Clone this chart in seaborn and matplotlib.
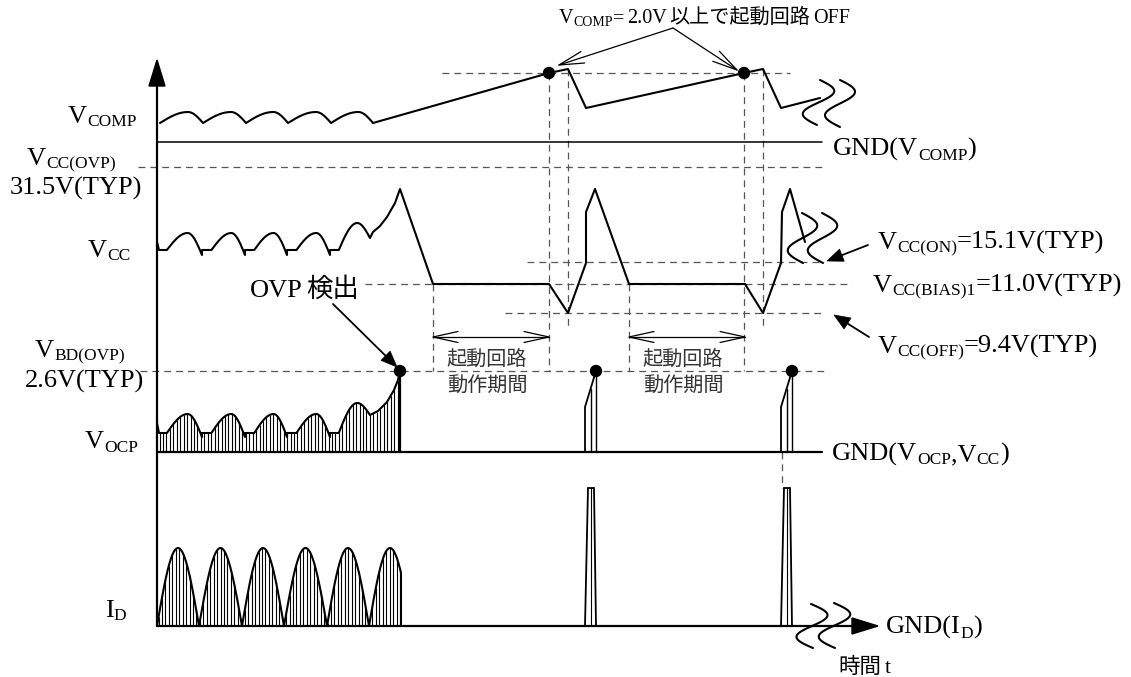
import numpy as np
import matplotlib
matplotlib.use("Agg")
import matplotlib.pyplot as plt
from matplotlib.patches import Polygon, Circle
import seaborn as sns

# ---------------- diagram data (drawing units, y grows downward) ----------------
W, H = 1131, 677

gnd_vcomp, gnd_vocp, gnd_id = 142, 452, 626
lvl_comp_off = 73      # V_COMP = 2.0V
lvl_vcc_ovp = 167      # V_CC(OVP) 31.5V
lvl_vcc_on = 262       # V_CC(ON) 15.1V
lvl_vcc_bias = 284     # V_CC(BIAS)1 11.0V
lvl_vcc_off = 313      # V_CC(OFF) 9.4V
lvl_vbd_ovp = 371      # V_BD(OVP) 2.6V

# normal switching: cycle boundaries and ripple extremes
vcomp_cycle_t = [160, 203, 246, 288, 331, 373]
vcomp_trough, vcomp_crest = 123, 112
vcc_cycle_t = [157, 202, 245, 287, 330, 370]
vcc_flat, vcc_crest, vcc_dip = 250, 233, 255
vcc_last_crest, vcc_last_dip = 223, 238
ocp_flat, ocp_crest, ocp_dip = 433, 414, 437
ocp_last_crest, ocp_last_dip = 403, 415
id_cycle_t = [157, 199, 242, 284, 327, 369, 411]
id_crest = 548
ovp_t = 400

# after OVP detection: start-up circuit cycling
vcomp_t = [373, 549, 568, 586, 744, 763, 781, 820]
vcomp_v = [123, 73, 69, 108, 73, 69, 108, 98]
vcc_rise_t = [370, 373, 380, 387, 395, 400]
vcc_rise_v = [238, 232, 226, 217, 203, 189]
vcc_t = [400, 433, 549, 568, 586, 586, 595, 629, 745, 763, 781, 782, 790, 805]
vcc_v = [189, 284, 284, 313, 263, 212, 189, 284, 284, 313, 263, 212, 189, 242]
ocp_rise_t = [370, 378, 387, 394, 398, 400]
ocp_rise_v = [415, 411, 402, 390, 380, 371]
restart_t = [585, 781]
restart_w = 11
ocp_knee = 407
id_pulse_top = 488
startup_windows = [(433, 549), (629, 745)]

# ---------------- figure ----------------
sns.set_theme(style="white")
plt.rcParams["font.family"] = ["Liberation Serif", "Noto Sans CJK JP"]

fig = plt.figure(figsize=(W / 100, H / 100), dpi=100)
ax = fig.add_axes([0, 0, 1, 1])
ax.set_axis_off()
renderer = fig.canvas.get_renderer()

K = "black"
DASH = dict(color="#555555", lw=0.9, linestyle=(0, (5.5, 4)))


def trace(xs, ys, lw=1.5, color=K):
    sns.lineplot(x=np.asarray(xs, float), y=np.asarray(ys, float), sort=False,
                 estimator=None, color=color, linewidth=lw, ax=ax)


def ripple(cycle_t, flat, crest, dip, flat_frac, crest_frac, last=None):
    xs, ys = [], []
    n = len(cycle_t) - 1
    for i, (a, b) in enumerate(zip(cycle_t[:-1], cycle_t[1:])):
        c, d = (crest, dip) if (last is None or i < n - 1) else last
        xa = a + flat_frac * (b - a)
        xp = a + crest_frac * (b - a)
        u = np.linspace(0, 1, 24)
        sx = np.concatenate([[a], xa + (xp - xa) * u, xp + (b - xp) * u[1:]])
        sy = np.concatenate([[flat], flat + (c - flat) * np.sin(u * np.pi / 2),
                             c + (d - c) * (1 - np.cos(u[1:] * np.pi / 2))])
        xs += list(sx)
        ys += list(sy)
    return xs, ys


def open_head(tip, frm, length=25, half=5.5, lw=0.9):
    tip = np.array(tip, float)
    frm = np.array(frm, float)
    d = (frm - tip) / np.linalg.norm(frm - tip)
    nrm = np.array([-d[1], d[0]])
    p1 = tip + d * length + nrm * half
    p2 = tip + d * length - nrm * half
    ax.plot([p1[0], tip[0], p2[0]], [p1[1], tip[1], p2[1]], color=K, lw=lw)


def filled_arrow(frm, tip, length=16, half=6.5, lw=1.3):
    tip = np.array(tip, float)
    frm = np.array(frm, float)
    d = (frm - tip) / np.linalg.norm(frm - tip)
    nrm = np.array([-d[1], d[0]])
    base = tip + d * length
    ax.plot([frm[0], base[0]], [frm[1], base[1]], color=K, lw=lw)
    ax.add_patch(Polygon([tip, base + nrm * half, base - nrm * half],
                         closed=True, facecolor=K, edgecolor=K, lw=0.5))


def squiggle(top, bottom, amp, lw=1.5):
    u = np.linspace(0, 1, 60)
    x = top[0] + (bottom[0] - top[0]) * u + amp * np.sin(2 * np.pi * u)
    y = top[1] + (bottom[1] - top[1]) * u
    ax.plot(x, y, color=K, lw=lw)


def rich(x, y, parts, size=19, sub_size=12.5, drop=3.5, color=K):
    cx = x
    for part in parts:
        if isinstance(part, (int, float)):
            cx += part
            continue
        s, is_sub = part if isinstance(part, tuple) else (part, False)
        t = ax.text(cx, y + (drop if is_sub else 0), s,
                    fontsize=sub_size if is_sub else size, color=color,
                    ha="left", va="baseline")
        cx += t.get_window_extent(renderer).width


# ---------------- reference / dashed lines ----------------
for y, x0, x1 in [(lvl_comp_off, 442, 790), (lvl_vcc_ovp, 138, 822),
                  (lvl_vcc_on, 527, 824), (lvl_vcc_bias, 365, 852),
                  (lvl_vcc_off, 505, 824), (lvl_vbd_ovp, 140, 825)]:
    ax.plot([x0, x1], [y, y], **DASH)

for x, y0, y1 in [(433, lvl_vcc_bias, lvl_vbd_ovp), (549, lvl_comp_off, lvl_vbd_ovp),
                  (568, 69, 330), (629, lvl_vcc_bias, lvl_vbd_ovp),
                  (744, lvl_comp_off, lvl_vbd_ovp), (763, 69, 330),
                  (782, gnd_vocp, id_pulse_top)]:
    ax.plot([x, x], [y0, y1], **DASH)

# ---------------- axes and ground lines ----------------
ax.plot([157, 157], [gnd_id, 84], color=K, lw=1.6)
ax.add_patch(Polygon([(157, 60), (149, 86), (165, 86)], closed=True, color=K))
ax.plot([157, 853], [gnd_id, gnd_id], color=K, lw=1.6)
ax.add_patch(Polygon([(878, gnd_id), (852, gnd_id - 8), (852, gnd_id + 8)], closed=True, color=K))
ax.plot([157, 822], [gnd_vcomp, gnd_vcomp], color=K, lw=1.1)
ax.plot([157, 822], [gnd_vocp, gnd_vocp], color=K, lw=1.6)

# ---------------- V_COMP ----------------
cx_, cy_ = ripple(vcomp_cycle_t, vcomp_trough, vcomp_crest, vcomp_trough, 0.0, 0.65)
trace(cx_ + vcomp_t[1:], cy_ + vcomp_v[1:])

# ---------------- V_CC ----------------
vx, vy = ripple(vcc_cycle_t, vcc_flat, vcc_crest, vcc_dip, 0.22, 0.68,
                last=(vcc_last_crest, vcc_last_dip))
trace([157, 159] + vx[1:] + vcc_rise_t + vcc_t[1:],
      [242, vcc_flat] + vy[1:] + vcc_rise_v + vcc_v[1:])

# ---------------- V_OCP ----------------
ox, oy = ripple(vcc_cycle_t, ocp_flat, ocp_crest, ocp_dip, 0.22, 0.68,
                last=(ocp_last_crest, ocp_last_dip))
ocp_x = [157, 159] + ox[1:] + ocp_rise_t
ocp_y = [423, ocp_flat] + oy[1:] + ocp_rise_v
hatch_x = np.arange(159.5, ovp_t, 3.45)
ax.vlines(hatch_x, np.interp(hatch_x, ocp_x, ocp_y), gnd_vocp, color=K, lw=0.8)
trace(ocp_x, ocp_y)
ax.plot([ovp_t, ovp_t], [lvl_vbd_ovp, gnd_vocp], color=K, lw=1.6)

for r in restart_t:
    top = r + restart_w
    ax.plot([r, r, top], [gnd_vocp, ocp_knee, lvl_vbd_ovp], color=K, lw=1.3)
    for xh in (r + 5.5, top):
        yh = ocp_knee + (lvl_vbd_ovp - ocp_knee) * (xh - r) / restart_w
        ax.plot([xh, xh], [gnd_vocp, yh], color=K, lw=1.0)

# ---------------- I_D ----------------
ix, iy = ripple(id_cycle_t, gnd_id, id_crest, gnd_id, 0.0, 0.5)
ix, iy = np.array(ix), np.array(iy)
keep = ix <= ovp_t + 1
cut_y = np.interp(ovp_t + 1, ix, iy)
id_x = list(ix[keep]) + [ovp_t + 1, ovp_t + 1]
id_y = list(iy[keep]) + [cut_y, gnd_id]
hx = np.arange(158.5, ovp_t + 1, 3.45)
ax.vlines(hx, np.interp(hx, ix, iy), gnd_id, color=K, lw=0.8)
trace(id_x, id_y)

for r in restart_t:
    ax.add_patch(Polygon([(r, gnd_id), (r + 3, id_pulse_top), (r + 9, id_pulse_top),
                          (r + restart_w, gnd_id)], closed=False,
                         facecolor="white", edgecolor=K, lw=1.3))
    ax.plot([r + 6, r + 6], [id_pulse_top, gnd_id], color=K, lw=0.8)

# ---------------- dots ----------------
for (x, y) in [(vcomp_t[1], lvl_comp_off), (vcomp_t[4], lvl_comp_off),
               (ovp_t, lvl_vbd_ovp)] + [(r + restart_w, lvl_vbd_ovp) for r in restart_t]:
    ax.add_patch(Circle((x, y), 5.5, color=K, zorder=5))

# ---------------- break marks ----------------
squiggle((820, 80), (817, 125), 15)
squiggle((840, 80), (840, 127), 15)
squiggle((802, 213), (803, 263), 15)
squiggle((822, 213), (823, 263), 15)
squiggle((811, 604), (813, 648), 16)
squiggle((834, 603), (835, 648), 16)

# ---------------- annotation arrows ----------------
for tip in [(559, 65), (737, 70)]:
    ax.plot([673, tip[0]], [28, tip[1]], color=K, lw=0.9)
    open_head(tip, (673, 28), length=25, half=6)

for (a, b) in startup_windows:
    ax.plot([a, b], [337, 337], color=K, lw=0.9)
    open_head((a, 337), (b, 337))
    open_head((b, 337), (a, 337))
    mid = (a + b) / 2 - 4
    ax.text(mid, 360, "起動回路", fontsize=14.5, color="#333333", ha="center", va="center")
    ax.text(mid, 386, "動作期間", fontsize=14.5, color="#333333", ha="center", va="center")

filled_arrow((333, 304), (397, 367))
filled_arrow((868, 245), (827, 261))
filled_arrow((869, 337), (834, 315))

# ---------------- labels ----------------
rich(559, 23, ["V", ("COMP", True), "=", 3, "2.0V", 2, "以上で起動回路", 3, "OFF"],
     size=14.5, sub_size=10, drop=2.5)

rich(68, 123, ["V", ("COMP", True)])
rich(27, 165, ["V", ("CC(OVP)", True)])
rich(10, 195, ["31.5V(TYP)"])
rich(88, 257, ["V", ("CC", True)])
rich(35, 357, ["V", ("BD(OVP)", True)])
rich(25, 388, ["2.6V(TYP)"])
rich(85, 448, ["V", ("OCP", True)])
rich(105, 617, ["I", ("D", True)])

rich(833, 156, ["GND(V", ("COMP", True), ")"])
rich(878, 249, ["V", ("CC(ON)", True), "=15.1V(TYP)"])
rich(873, 292, ["V", ("CC(BIAS)1", True), "=11.0V(TYP)"])
rich(878, 353, ["V", ("CC(OFF)", True), "=9.4V(TYP)"])
rich(832, 461, ["GND(V", ("OCP", True), ",V", ("CC", True), ")"])
rich(886, 634, ["GND(I", ("D", True), ")"])
rich(838, 673, ["時間", 4, "t"], size=15.5)
rich(250, 297, ["OVP", 3, "検出"], size=19)

ax.set_xlim(0, W)
ax.set_ylim(H, 0)
fig.savefig("out.png", dpi=100, facecolor="white")
